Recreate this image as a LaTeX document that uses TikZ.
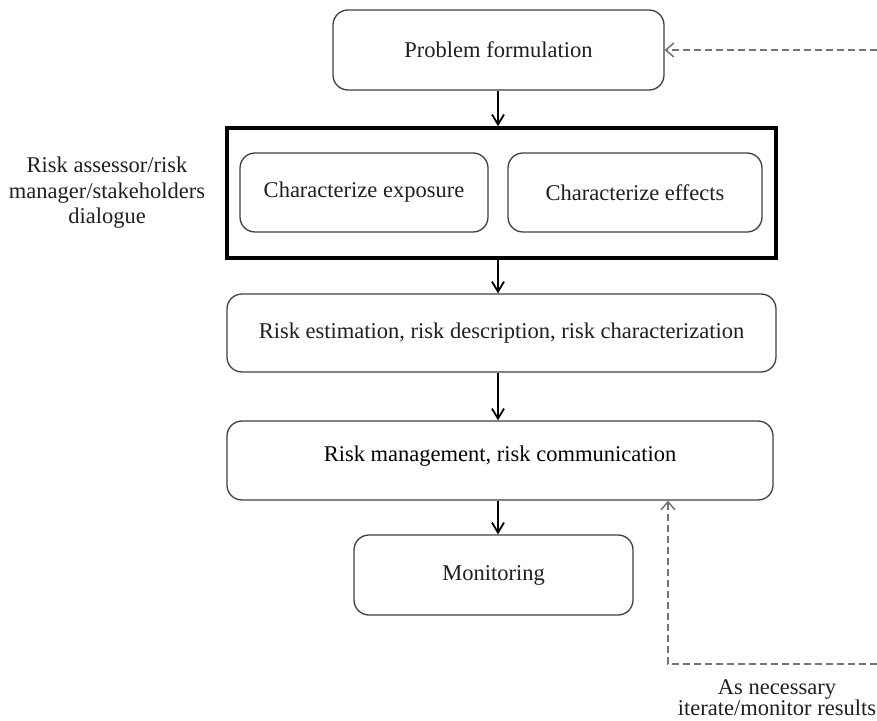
\documentclass[tikz,border=0pt]{standalone}
\usepackage{fontspec}
\setmainfont{Liberation Serif}
\usetikzlibrary{arrows.meta}
\begin{document}
\begin{tikzpicture}[x=1pt,y=-1pt,
  font=\fontsize{22.5}{21}\selectfont,
  stepbox/.style={draw=black!75, line width=1.3pt, rounded corners=15pt, fill=white, text=black!88, inner sep=0pt},
  group/.style={draw=black, line width=3.5pt, inner sep=0pt},
  flow/.style={-{Straight Barb[length=10pt,width=12pt,line width=1.8pt]}, line width=2pt, black},
  loop/.style={-{Straight Barb[length=8pt,width=14pt,line width=1.5pt]}, draw=black!55, line width=1.5pt, dash pattern=on 7pt off 4pt},
  note/.style={align=center, text=black!88, inner sep=0pt}]
\useasboundingbox (0,0) rectangle (877,720);

% main flow boxes
\node[stepbox, minimum width=331pt, minimum height=80pt] (prob) at (498.5,50) {Problem formulation};
\node[group, minimum width=549pt, minimum height=130pt] (char) at (501.5,193) {};
\node[stepbox, minimum width=248pt, minimum height=79pt] (expo) at (364,192.5) {Characterize exposure};
\node[stepbox, minimum width=254pt, minimum height=79pt] (eff) at (635,192.5) {Characterize effects};
\node[stepbox, minimum width=549pt, minimum height=78pt] (est) at (501.5,333) {Risk estimation, risk description, risk characterization};
\node[stepbox, minimum width=546pt, minimum height=79pt] (mgmt) at (500,460.5) {};
\node at (500,456) {Risk management, risk communication};
\node[stepbox, minimum width=279pt, minimum height=80pt] (mon) at (493.5,575) {Monitoring};

% side labels
\node[note, font=\fontsize{22.5}{25.5}\selectfont] (dial) at (107,193) {Risk assessor/risk\\manager/stakeholders\\dialogue};
\node[note] (iter) at (777,698) {As necessary\\iterate/monitor results};

% solid arrows between stages
\draw[flow] (prob.south -| 498,0) -- (char.north -| 498,0);
\draw[flow] (char.south -| 498,0) -- (est.north -| 498,0);
\draw[flow] (est.south -| 498,0) -- (mgmt.north -| 498,0);
\draw[flow] (mgmt.south -| 498,0) -- (mon.north -| 498,0);

% dashed feedback lines
\coordinate (topin) at (877,50);
\coordinate (botin) at (877,664);
\coordinate (botcorner) at (668,664);
\draw[loop] (topin) -- (prob.east);
\draw[loop] (botin) -- (botcorner) -- (mgmt.south -| botcorner);
\end{tikzpicture}
\end{document}
